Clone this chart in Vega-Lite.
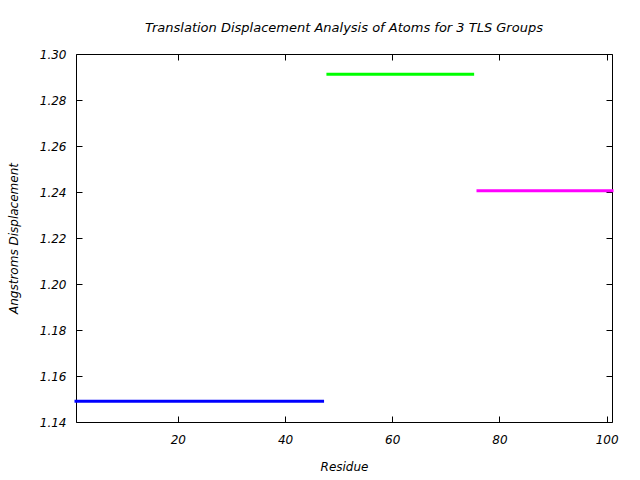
{
  "$schema": "https://vega.github.io/schema/vega-lite/v6.json",
  "width": 536,
  "height": 368,
  "autosize": {"type": "none"},
  "padding": {"left": 76, "top": 54, "right": 28, "bottom": 58},
  "background": "white",
  "title": {
    "text": "Translation Displacement Analysis of Atoms for 3 TLS Groups",
    "font": "DejaVu Sans",
    "fontSize": 13,
    "fontStyle": "italic",
    "fontWeight": "normal",
    "color": "black",
    "anchor": "middle",
    "offset": 13
  },
  "config": {
    "view": {"stroke": "black", "strokeWidth": 1},
    "axis": {
      "labelFont": "DejaVu Sans",
      "labelFontStyle": "italic",
      "labelFontSize": 12,
      "labelColor": "black",
      "titleFont": "DejaVu Sans",
      "titleFontStyle": "italic",
      "titleFontWeight": "normal",
      "titleFontSize": 12,
      "titleColor": "black",
      "domain": false,
      "grid": false,
      "tickColor": "black",
      "tickSize": -6,
      "tickWidth": 1
    }
  },
  "data": {
    "values": [
      {"residue": 1, "disp": 1.149, "group": "1"},
      {"residue": 47, "disp": 1.149, "group": "1"},
      {"residue": 48, "disp": 1.2912, "group": "2"},
      {"residue": 75, "disp": 1.2912, "group": "2"},
      {"residue": 76, "disp": 1.2405, "group": "3"},
      {"residue": 101, "disp": 1.2405, "group": "3"}
    ]
  },
  "layer": [
    {
      "mark": {"type": "line", "strokeWidth": 3, "strokeCap": "square"},
      "encoding": {
        "x": {
          "field": "residue",
          "type": "quantitative",
          "scale": {"domain": [1, 101], "nice": false, "zero": false},
          "axis": {
            "title": "Residue",
            "values": [20, 40, 60, 80, 100],
            "labelPadding": 18,
            "titlePadding": 16,
            "orient": "bottom"
          }
        },
        "y": {
          "field": "disp",
          "type": "quantitative",
          "scale": {"domain": [1.14, 1.3], "nice": false, "zero": false},
          "axis": {
            "title": "Angstroms Displacement",
            "values": [1.14, 1.16, 1.18, 1.2, 1.22, 1.24, 1.26, 1.28, 1.3],
            "format": ".2f",
            "labelPadding": 16,
            "titlePadding": 19,
            "orient": "left"
          }
        },
        "color": {
          "field": "group",
          "type": "nominal",
          "scale": {"domain": ["1", "2", "3"], "range": ["#0000ff", "#00ff00", "#ff00ff"]},
          "legend": null
        }
      }
    },
    {
      "mark": {"type": "line", "strokeOpacity": 0},
      "encoding": {
        "x": {
          "field": "residue",
          "type": "quantitative",
          "axis": {
            "title": null,
            "labels": false,
            "values": [20, 40, 60, 80, 100],
            "orient": "top"
          }
        },
        "y": {
          "field": "disp",
          "type": "quantitative",
          "axis": {
            "title": null,
            "labels": false,
            "values": [1.14, 1.16, 1.18, 1.2, 1.22, 1.24, 1.26, 1.28, 1.3],
            "orient": "right"
          }
        },
        "detail": {"field": "group", "type": "nominal"}
      }
    }
  ],
  "resolve": {"axis": {"x": "independent", "y": "independent"}}
}
